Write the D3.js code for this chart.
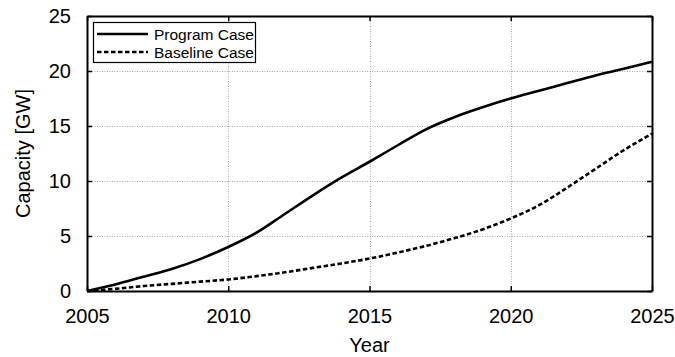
<!DOCTYPE html>
<html>
<head>
<meta charset="utf-8">
<script src="https://cdn.jsdelivr.net/npm/d3@7"></script>
<style>
  html, body { margin: 0; padding: 0; background: #fff; }
  svg { display: block; font-family: "Liberation Sans", Arial, sans-serif; }
</style>
</head>
<body>
<svg id="chart" width="675" height="357"></svg>
<script>
// Installed capacity by year for the two cases (GW)
const years = d3.range(2005, 2026);
const programCase = [0, 0.6, 1.3, 2.0, 2.9, 4.0, 5.3, 7.0, 8.7, 10.3, 11.75,
                     13.25, 14.7, 15.8, 16.7, 17.5, 18.2, 18.9, 19.6, 20.2, 20.85];
const baselineCase = [0, 0.2, 0.45, 0.65, 0.85, 1.05, 1.35, 1.7, 2.1, 2.5, 2.95,
                      3.5, 4.1, 4.8, 5.6, 6.6, 7.8, 9.4, 11.1, 12.8, 14.3];
const xTicks = [2005, 2010, 2015, 2020, 2025];
const yTicks = [0, 5, 10, 15, 20, 25];
const seriesNames = ["Program Case", "Baseline Case"];

const svg = d3.select("#chart");
const m = { left: 87, right: 652, top: 16, bottom: 291 };

const x = d3.scaleLinear().domain([2005, 2025]).range([m.left, m.right]);
const y = d3.scaleLinear().domain([0, 25]).range([m.bottom, m.top]);

// dotted grid
const grid = svg.append("g")
  .attr("stroke", "#a8a8a8").attr("stroke-width", 1)
  .attr("stroke-dasharray", "1,1.5");
grid.selectAll(".gx").data(xTicks.slice(1, -1)).join("line")
  .attr("x1", d => Math.round(x(d)) + 0.5).attr("x2", d => Math.round(x(d)) + 0.5)
  .attr("y1", m.top).attr("y2", m.bottom);
grid.selectAll(".gy").data(yTicks.slice(1, -1)).join("line")
  .attr("y1", d => Math.round(y(d)) + 0.5).attr("y2", d => Math.round(y(d)) + 0.5)
  .attr("x1", m.left).attr("x2", m.right);

// axes with inward ticks on all four sides
const tickLen = 5;
const fontSize = 20;
const bottomAxis = d3.axisBottom(x).tickValues(xTicks).tickFormat(d3.format("d"))
  .tickSizeInner(-tickLen).tickSizeOuter(0).tickPadding(18);
const topAxis = d3.axisTop(x).tickValues(xTicks).tickFormat("")
  .tickSizeInner(-tickLen).tickSizeOuter(0);
const leftAxis = d3.axisLeft(y).tickValues(yTicks).tickFormat(d3.format("d"))
  .tickSizeInner(-tickLen).tickSizeOuter(0).tickPadding(16);
const rightAxis = d3.axisRight(y).tickValues(yTicks).tickFormat("")
  .tickSizeInner(-tickLen).tickSizeOuter(0);

function styleAxis(g) {
  g.select(".domain").attr("stroke", "#000").attr("stroke-width", 2);
  g.selectAll(".tick line").attr("stroke", "#000").attr("stroke-width", 1.5);
  g.selectAll(".tick text").attr("fill", "#000")
    .attr("font-size", fontSize).attr("font-family", "Liberation Sans, Arial, sans-serif");
}

svg.append("g").attr("transform", `translate(0,${m.bottom})`).call(bottomAxis).call(styleAxis);
svg.append("g").attr("transform", `translate(0,${m.top})`).call(topAxis).call(styleAxis);
svg.append("g").attr("transform", `translate(${m.left},0)`).call(leftAxis).call(styleAxis);
svg.append("g").attr("transform", `translate(${m.right},0)`).call(rightAxis).call(styleAxis);

// series lines
const line = d3.line()
  .x((d, i) => x(years[i]))
  .y(d => y(d))
  .curve(d3.curveMonotoneX);

svg.append("path").datum(programCase)
  .attr("fill", "none").attr("stroke", "#000").attr("stroke-width", 2.6)
  .attr("d", line);
svg.append("path").datum(baselineCase)
  .attr("fill", "none").attr("stroke", "#000").attr("stroke-width", 2.6)
  .attr("stroke-dasharray", "4.5,2.5")
  .attr("d", line);

// axis titles
svg.append("text")
  .attr("x", (m.left + m.right) / 2).attr("y", 352)
  .attr("text-anchor", "middle").attr("font-size", fontSize).text("Year");
svg.append("text")
  .attr("transform", `translate(30,${(m.top + m.bottom) / 2}) rotate(-90)`)
  .attr("text-anchor", "middle").attr("font-size", fontSize).text("Capacity [GW]");

// legend
const legend = svg.append("g");
legend.append("rect")
  .attr("x", 93.5).attr("y", 22.5).attr("width", 162).attr("height", 40)
  .attr("fill", "#fff").attr("stroke", "#000").attr("stroke-width", 1.2);
const dashes = [null, "4.5,2.5"];
seriesNames.forEach((name, i) => {
  const ly = 34 + i * 18;
  legend.append("line")
    .attr("x1", 97).attr("x2", 148).attr("y1", ly).attr("y2", ly)
    .attr("stroke", "#000").attr("stroke-width", 2.6)
    .attr("stroke-dasharray", dashes[i]);
  legend.append("text")
    .attr("x", 154).attr("y", ly + 5.5)
    .attr("font-size", 15.5).text(name);
});
</script>
</body>
</html>
